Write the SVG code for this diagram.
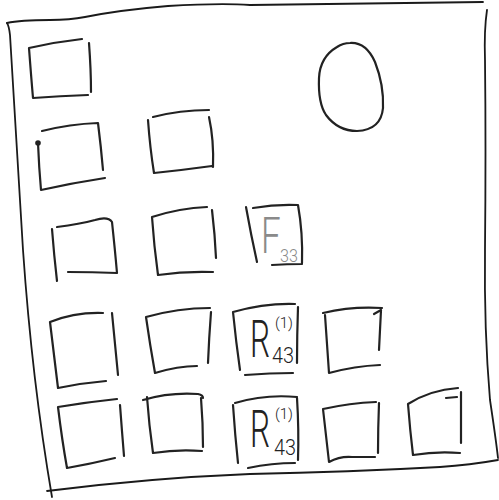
<svg xmlns="http://www.w3.org/2000/svg" width="499" height="500" viewBox="0 0 499 500">
<style>
.s{fill:none;stroke:#222;stroke-width:2.2;stroke-linecap:round;stroke-linejoin:round}
.f{fill:none;stroke:#1a1a1a;stroke-width:1.8;stroke-linecap:round}
.t{font-family:Roboto,"Liberation Sans",Arial,sans-serif;font-weight:300;fill:#222}
.g{font-family:Roboto,"Liberation Sans",Arial,sans-serif;font-weight:300;fill:#8a8a8a}
</style>
<rect width="499" height="500" fill="#fff"/>
<g id="frame">
<path class="f" d="M7,23 Q20,20 50,20 Q70,20 85,17 Q120,10 168,6 Q220,3 250,5 Q380,3 483,2"/>
<path class="f" d="M487,10 Q484,30 485,60 Q486,150 485,250 Q484,330 490,400 Q496,440 498,458"/>
<path class="f" d="M498,460 Q470,465 440,467 Q350,472 250,474 Q150,478 47,491"/>
<path class="f" d="M7,23 Q9,26 10,35 Q16,140 23,250 Q32,380 52,497"/>
</g>
<g id="ellipse">
<path class="s" d="M350,43 Q366,42 375,62 Q384,85 383,108 Q381,130 357,131 Q338,131 326,115 Q318,103 319,78 Q320,57 337,47 Q343,43 350,43 Z"/>
</g>
<g id="box-r0c0">
<path class="s" d="M89,43 Q91,70 91,92 M29,48 Q55,42 82,39 M29,48 Q31,75 33,98 Q60,96 88,95"/>
</g>
<g id="box-r1c0">
<circle cx="38" cy="143" r="2.8" fill="#222"/>
<path class="s" d="M38,143 Q39,168 41,190 Q72,183 105,178 M42,131 Q70,124 98,123 Q101,147 103,170"/>
</g>
<g id="box-r1c1">
<path class="s" d="M153,117 Q180,110 209,110 M148,120 Q150,148 154,173 Q183,170 212,166 M209,117 Q214,140 213,167"/>
</g>
<g id="box-r2c0">
<path class="s" d="M57,227 Q80,224 95,220 Q108,216 112,222 Q115,250 117,273 Q92,272 68,272 M52,229 Q54,255 57,281"/>
</g>
<g id="box-r2c1">
<path class="s" d="M152,217 Q180,208 207,207 M152,217 Q154,246 158,275 Q185,271 213,272 M212,210 Q215,235 216,258"/>
</g>
<g id="box-r2c2">
<path class="s" d="M246,207 Q251,235 257,262 M253,208 Q276,204 298,205 Q303,233 302,263 M272,265 Q287,264 302,264"/>
<text class="g" transform="translate(261,253) scale(0.7,1)" font-size="50">F</text>
<text class="g" transform="translate(280,262) scale(0.85,1)" font-size="19">33</text>
</g>
<g id="box-r3c0">
<path class="s" d="M50,322 Q75,312 103,313 M50,322 Q54,355 58,388 Q82,383 106,381 M112,313 Q115,345 118,375"/>
</g>
<g id="box-r3c1">
<path class="s" d="M146,317 Q178,308 210,308 M146,317 Q150,345 155,373 Q178,366 197,366 M211,312 Q209,338 208,363"/>
</g>
<g id="box-r3c2">
<path class="s" d="M233,312 Q265,303 295,304 M233,312 Q236,342 240,370 M245,375 Q270,373 293,373 M298,307 Q297,335 297,363"/>
<text class="t" transform="translate(250,357) scale(0.62,1)" font-size="51">R</text>
<text class="t" x="275" y="328" font-size="15">(1)</text>
<text class="t" transform="translate(272,363) scale(0.9,1)" font-size="22">43</text>
</g>
<g id="box-r3c3">
<path class="s" d="M323,313 Q352,306 382,308 M374,314 L381,310 Q380,330 379,350 M325,315 Q327,345 329,373 Q355,366 380,365"/>
</g>
<g id="box-r4c0">
<path class="s" d="M58,407 Q88,402 117,399 M58,407 Q62,440 67,468 Q90,464 115,458 M120,405 Q122,432 124,456"/>
</g>
<g id="box-r4c1">
<path class="s" d="M143,400 Q170,392 198,394 Q203,395 203,398 M147,397 Q149,425 153,453 Q178,449 202,451 M201,398 Q203,423 203,447"/>
</g>
<g id="box-r4c2">
<path class="s" d="M235,403 Q265,394 297,397 M233,405 Q235,435 238,463 M248,468 Q272,463 295,463 M297,398 Q299,430 298,460"/>
<text class="t" transform="translate(250,447) scale(0.62,1)" font-size="51">R</text>
<text class="t" x="275" y="419" font-size="15">(1)</text>
<text class="t" transform="translate(274,455) scale(0.9,1)" font-size="22">43</text>
</g>
<g id="box-r4c3">
<path class="s" d="M323,409 Q350,403 376,402 M323,409 Q326,436 329,462 Q340,456 352,457 Q365,457 375,457 M379,403 Q378,428 378,453"/>
</g>
<g id="box-r4c4">
<path class="s" d="M408,404 Q430,390 458,388 M446,398 L457,397 M461,392 Q461,418 461,443 M408,404 Q410,430 413,455 Q437,451 460,453"/>
</g>
</svg>
